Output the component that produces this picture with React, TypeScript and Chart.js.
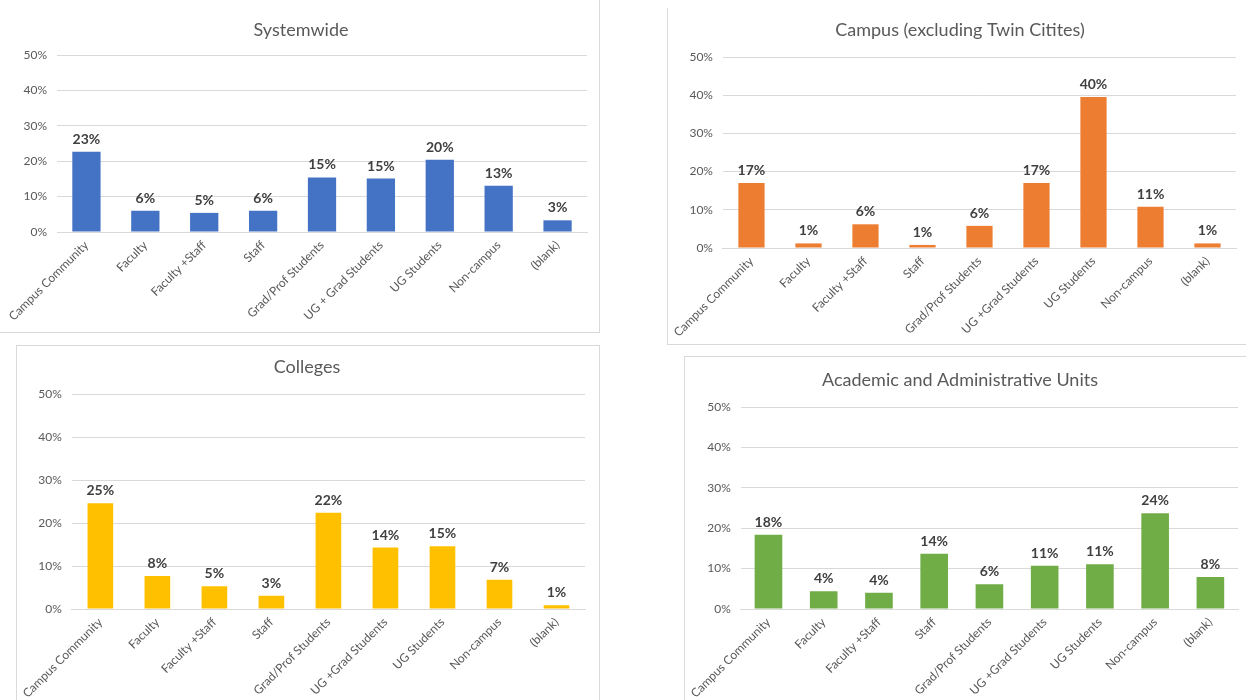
import React, { useEffect, useRef } from "react";
import { Chart, registerables } from "chart.js";

Chart.register(...registerables);

const FONT = "Lato, 'Noto Sans', sans-serif";

const categoriesSystemwide = [
  "Campus Community",
  "Faculty",
  "Faculty +Staff",
  "Staff",
  "Grad/Prof Students",
  "UG + Grad Students",
  "UG Students",
  "Non-campus",
  "(blank)",
];
const categoriesOther = [
  "Campus Community",
  "Faculty",
  "Faculty +Staff",
  "Staff",
  "Grad/Prof Students",
  "UG +Grad Students",
  "UG Students",
  "Non-campus",
  "(blank)",
];

const systemwideValues = [22.7, 6.0, 5.4, 6.0, 15.4, 15.1, 20.4, 13.1, 3.3];
const campusValues = [17.0, 1.2, 6.2, 0.8, 5.8, 17.0, 39.5, 10.8, 1.2];
const collegesValues = [24.6, 7.7, 5.3, 3.1, 22.4, 14.3, 14.6, 6.8, 0.9];
const unitsValues = [18.4, 4.4, 4.0, 13.7, 6.1, 10.7, 11.1, 23.7, 7.9];

const yMin = 0;
const yMax = 50;
const yStep = 10;

type Panel = {
  title: string;
  categories: string[];
  values: number[];
  color: string;
  box: { x: number; y: number; w: number; h: number };
  sides: { top?: boolean; right?: boolean; bottom?: boolean; left?: boolean };
  plot: { left: number; top: number; right: number; bottom: number };
  titlePos: { x: number; y: number };
  barPct: number;
};

const panels: Panel[] = [
  {
    title: "Systemwide",
    categories: categoriesSystemwide,
    values: systemwideValues,
    color: "#4472C4",
    box: { x: 0, y: 0, w: 600, h: 333 },
    sides: { right: true, bottom: true },
    plot: { left: 57, top: 55, right: 587, bottom: 232 },
    titlePos: { x: 301, y: 30 },
    barPct: 0.48,
  },
  {
    title: "Campus (excluding Twin Citites)",
    categories: categoriesOther,
    values: campusValues,
    color: "#ED7D31",
    box: { x: 667, y: 8, w: 579, h: 337 },
    sides: { left: true, bottom: true },
    plot: { left: 54, top: 49, right: 569, bottom: 240 },
    titlePos: { x: 293, y: 22 },
    barPct: 0.46,
  },
  {
    title: "Colleges",
    categories: categoriesOther,
    values: collegesValues,
    color: "#FFC000",
    box: { x: 16, y: 345, w: 584, h: 355 },
    sides: { left: true, top: true, right: true },
    plot: { left: 52, top: 49, right: 569, bottom: 264 },
    titlePos: { x: 291, y: 22 },
    barPct: 0.45,
  },
  {
    title: "Academic and Administrative Units",
    categories: categoriesOther,
    values: unitsValues,
    color: "#70AD47",
    box: { x: 684, y: 356, w: 562, h: 344 },
    sides: { left: true, top: true },
    plot: { left: 54, top: 51, right: 554, bottom: 253 },
    titlePos: { x: 276, y: 24 },
    barPct: 0.5,
  },
];

const titlePlugin = {
  id: "panelTitle",
  afterDraw(chart: any, _args: any, opts: any) {
    const ctx = chart.ctx;
    ctx.save();
    ctx.font = `18px ${FONT}`;
    ctx.fillStyle = "#595959";
    ctx.textAlign = "center";
    ctx.textBaseline = "middle";
    ctx.fillText(opts.text, opts.x, opts.y);
    ctx.restore();
  },
};

const valueLabelPlugin = {
  id: "valueLabels",
  afterDatasetsDraw(chart: any) {
    const ctx = chart.ctx;
    const meta = chart.getDatasetMeta(0);
    const data = chart.data.datasets[0].data as number[];
    ctx.save();
    ctx.font = `bold 14px ${FONT}`;
    ctx.fillStyle = "#404040";
    ctx.textAlign = "center";
    ctx.textBaseline = "alphabetic";
    meta.data.forEach((el: any, i: number) => {
      ctx.fillText(`${Math.round(data[i])}%`, el.x, el.y - 8);
    });
    ctx.restore();
  },
};

function PanelChart({ p }: { p: Panel }) {
  const ref = useRef<HTMLCanvasElement | null>(null);
  useEffect(() => {
    if (!ref.current) return;
    const { w, h } = p.box;
    const chart = new Chart(ref.current, {
      type: "bar",
      data: {
        labels: p.categories,
        datasets: [
          {
            data: p.values,
            backgroundColor: p.color,
            barPercentage: p.barPct,
            categoryPercentage: 1,
          },
        ],
      },
      options: {
        responsive: false,
        animation: false,
        layout: {
          padding: { left: 0, top: p.plot.top, right: w - p.plot.right, bottom: 0 },
        },
        plugins: {
          legend: { display: false },
          tooltip: { enabled: false },
          title: { display: false },
          panelTitle: { text: p.title, x: p.titlePos.x, y: p.titlePos.y },
        } as any,
        scales: {
          x: {
            grid: { display: false, drawTicks: false },
            border: { display: true, color: "#d9d9d9", width: 1 },
            ticks: {
              color: "#595959",
              font: { family: FONT, size: 12 },
              minRotation: 45,
              maxRotation: 45,
              autoSkip: false,
              padding: 6,
            },
            afterFit: (s: any) => {
              s.height = h - p.plot.bottom;
            },
          },
          y: {
            min: yMin,
            max: yMax,
            grid: { color: "#d9d9d9", drawTicks: false, lineWidth: 1 },
            border: { display: false },
            ticks: {
              stepSize: yStep,
              padding: 10,
              color: "#595959",
              font: { family: FONT, size: 12 },
              callback: (v: any) => `${v}%`,
            },
            afterFit: (s: any) => {
              s.width = p.plot.left;
            },
          },
        },
      },
      plugins: [titlePlugin, valueLabelPlugin],
    } as any);
    return () => chart.destroy();
  }, [p]);

  const b = "1px solid #d9d9d9";
  return (
    <>
      <div
        style={{
          position: "absolute",
          left: p.box.x,
          top: p.box.y,
          width: p.box.w,
          height: p.box.h,
          boxSizing: "border-box",
          borderTop: p.sides.top ? b : "none",
          borderRight: p.sides.right ? b : "none",
          borderBottom: p.sides.bottom ? b : "none",
          borderLeft: p.sides.left ? b : "none",
        }}
      />
      <canvas
        ref={ref}
        width={p.box.w}
        height={p.box.h}
        style={{
          position: "absolute",
          left: p.box.x,
          top: p.box.y,
          width: p.box.w,
          height: p.box.h,
        }}
      />
    </>
  );
}

export default function App() {
  return (
    <div
      style={{
        position: "fixed",
        left: 0,
        top: 0,
        width: 1246,
        height: 700,
        background: "#ffffff",
        overflow: "hidden",
      }}
    >
      {panels.map((p) => (
        <PanelChart key={p.title} p={p} />
      ))}
    </div>
  );
}
